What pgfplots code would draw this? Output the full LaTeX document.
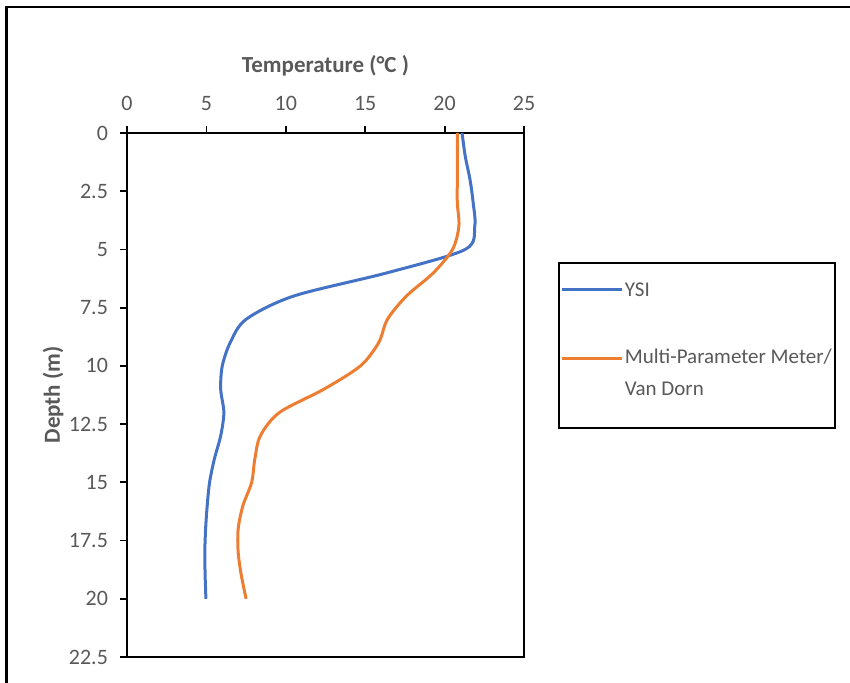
\documentclass[border=0pt]{standalone}
\usepackage{fontspec}
\setmainfont{Carlito}
\usepackage{pgfplots}
\pgfplotsset{compat=1.18}
\definecolor{ysiblue}{HTML}{4472C4}
\definecolor{mporange}{HTML}{ED7D31}
\definecolor{txtgray}{HTML}{595959}
\begin{document}
\begin{tikzpicture}
\useasboundingbox (0,0) rectangle (425pt,341.5pt);
\draw[line width=1.3pt] (3.25pt,0pt) -- (3.25pt,338pt) -- (425pt,338pt);
\begin{axis}[
  at={(63.5pt,13pt)}, anchor=south west,
  scale only axis, width=198.5pt, height=262pt,
  xmin=0, xmax=25, ymin=0, ymax=22.5,
  y dir=reverse,
  xtick={0,5,...,25},
  ytick={0,2.5,5,7.5,10,12.5,15,17.5,20,22.5},
  xticklabel pos=upper,
  xtick pos=upper, ytick pos=left,
  tick align=outside,
  major tick length=3.5pt,
  axis line style={black, line width=0.9pt},
  tick style={black, line width=0.9pt},
  /pgf/number format/assume math mode=true,
  /pgf/number format/fixed,
  ticklabel style={font=\fontsize{11}{13}\selectfont, text=txtgray},
  xticklabel style={yshift=4pt},
  yticklabel style={xshift=-2.5pt},
  xlabel={Temperature (°C )},
  ylabel={Depth (m)},
  xlabel style={at={(axis description cs:0.5,1.1145)}, anchor=base, font=\fontsize{11.5}{13}\selectfont\bfseries, text=txtgray},
  ylabel style={at={(axis description cs:-0.169,0.5)}, anchor=base, font=\fontsize{11.5}{13}\selectfont\bfseries, text=txtgray},
  legend style={at={(1.0856,0.7538)}, anchor=north west, draw=black, line width=0.9pt,
    inner xsep=1pt, inner ysep=8pt, row sep=2pt,
    font=\fontsize{10.5}{16}\selectfont, text=txtgray,
    nodes={text depth=, inner xsep=0.5pt}},
  legend image code/.code={\path (0pt,0pt) -- (30pt,0pt); \draw[#1, line width=1.5pt] (5pt,0pt) -- (30pt,0pt);},
  legend cell align=left,
]
\addplot[ysiblue, line width=1.5pt, smooth] coordinates {
(21.1,0) (21.3,1) (21.6,2) (21.8,3) (21.9,4) (21.3,5) (16.4,6) (10.5,7) (7.5,8) (6.5,9) (6.0,10)
(5.9,11) (6.1,12) (5.9,13) (5.5,14) (5.2,15) (5.05,16) (4.95,17) (4.9,18) (4.92,19) (4.97,20)
};
\addlegendentry{YSI}
\addplot[mporange, line width=1.5pt, smooth] coordinates {
(20.8,0) (20.8,1) (20.8,2) (20.8,3) (20.9,4) (20.5,5) (19.3,6) (17.6,7) (16.4,8) (15.85,9) (14.7,10)
(12.4,11) (9.6,12) (8.4,13) (8.05,14) (7.85,15) (7.3,16) (7.0,17) (7.0,18) (7.2,19) (7.5,20)
};
\addlegendentry{\raisebox{0pt}[27.5pt][22pt]{\begin{tabular}[t]{@{}l@{}}Multi-Parameter Meter/\\Van Dorn\end{tabular}}}
\end{axis}
\end{tikzpicture}
\end{document}
